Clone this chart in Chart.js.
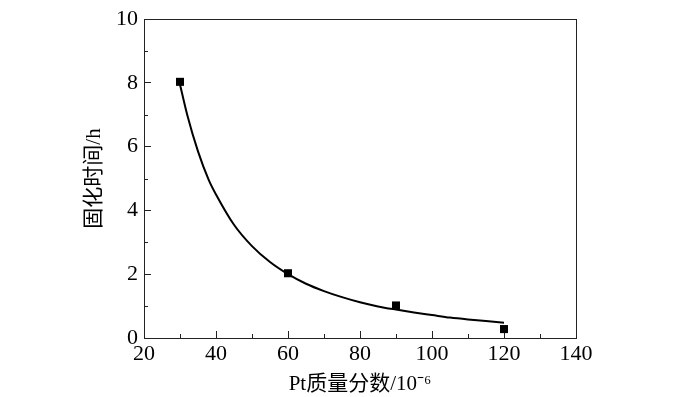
<!DOCTYPE html>
<html>
<head>
<meta charset="utf-8">
<script src="https://cdn.jsdelivr.net/npm/chart.js@4/dist/chart.umd.min.js"></script>
<style>
  html, body { margin: 0; padding: 0; background: #fff; }
  #wrap { width: 700px; height: 397px; }
</style>
</head>
<body>
<div id="wrap"><canvas id="chart" width="700" height="397"></canvas></div>
<script>
// measured points
const ptX = [30, 60, 90, 120];
const ptY = [8.03, 2.03, 1.02, 0.28];

// fitted curve
const fitX = [30, 32, 35, 38, 40, 45, 50, 55, 60, 65, 70, 75, 80, 85, 90, 95, 100, 105, 110, 115, 120];
const fitY = [7.95, 7.0, 5.85, 4.95, 4.5, 3.55, 2.88, 2.38, 2.0, 1.7, 1.47, 1.28, 1.12, 0.99, 0.89, 0.8, 0.72, 0.64, 0.58, 0.53, 0.48];

// axis ticks
const xMajor = [20, 40, 60, 80, 100, 120, 140];
const xMinor = [30, 50, 70, 90, 110, 130];
const yMajor = [0, 2, 4, 6, 8, 10];
const yMinor = [1, 3, 5, 7, 9];

const axisColor = "#222";
const numFont = { family: "'Liberation Serif', 'Times New Roman', serif", size: 22 };
const titleFont = { family: "'Liberation Serif', 'Noto Sans CJK SC', serif", size: 21 };

// frame + minor ticks
const framePlugin = {
  id: "frame",
  afterDraw(chart) {
    const { ctx, chartArea: a, scales } = chart;
    ctx.save();
    ctx.strokeStyle = axisColor;
    ctx.lineWidth = 1;
    ctx.strokeRect(a.left + 0.5, a.top + 0.5, a.right - a.left, a.bottom - a.top);
    ctx.beginPath();
    xMinor.forEach((v) => {
      const px = Math.round(scales.x.getPixelForValue(v)) + 0.5;
      ctx.moveTo(px, a.bottom);
      ctx.lineTo(px, a.bottom - 4);
    });
    yMinor.forEach((v) => {
      const py = Math.round(scales.y.getPixelForValue(v)) + 0.5;
      ctx.moveTo(a.left, py);
      ctx.lineTo(a.left + 4, py);
    });
    ctx.stroke();
    ctx.restore();
  },
};

new Chart(document.getElementById("chart"), {
  type: "scatter",
  data: {
    datasets: [
      {
        label: "fit",
        data: fitX.map((x, i) => ({ x: x, y: fitY[i] })),
        showLine: true,
        borderColor: "#000",
        borderWidth: 2,
        pointRadius: 0,
        cubicInterpolationMode: "monotone",
        order: 2,
      },
      {
        label: "data",
        data: ptX.map((x, i) => ({ x: x, y: ptY[i] })),
        pointStyle: "rect",
        pointRadius: 5.7,
        backgroundColor: "#000",
        borderColor: "#000",
        borderWidth: 0,
        order: 1,
      },
    ],
  },
  options: {
    responsive: false,
    animation: false,
    layout: { padding: { top: 19, right: 124, left: 0, bottom: 0 } },
    plugins: { legend: { display: false }, tooltip: { enabled: false } },
    scales: {
      x: {
        type: "linear",
        min: 20,
        max: 140,
        afterBuildTicks: (s) => { s.ticks = xMajor.map((v) => ({ value: v })); },
        afterFit: (s) => {
          s.height = 59;
          s.paddingLeft = 0;
          s.paddingRight = 0;
        },
        ticks: { color: "#000", font: numFont, padding: 10, maxRotation: 0 },
        grid: { drawOnChartArea: false, tickLength: -7, color: axisColor },
        border: { color: axisColor },
        title: {
          display: true,
          text: "Pt质量分数/10⁻⁶",
          color: "#000",
          font: titleFont,
          padding: { top: 0, bottom: 0 },
        },
      },
      y: {
        type: "linear",
        min: 0,
        max: 10,
        afterBuildTicks: (s) => { s.ticks = yMajor.map((v) => ({ value: v })); },
        afterFit: (s) => {
          s.width = 144;
          s.paddingTop = 0;
          s.paddingBottom = 0;
        },
        ticks: { color: "#000", font: numFont, padding: 13 },
        grid: { drawOnChartArea: false, tickLength: -7, color: axisColor },
        border: { color: axisColor },
        title: {
          display: true,
          text: "固化时间/h",
          color: "#000",
          font: titleFont,
          padding: { top: 82, bottom: 0 },
        },
      },
    },
  },
  plugins: [framePlugin],
});
</script>
</body>
</html>
